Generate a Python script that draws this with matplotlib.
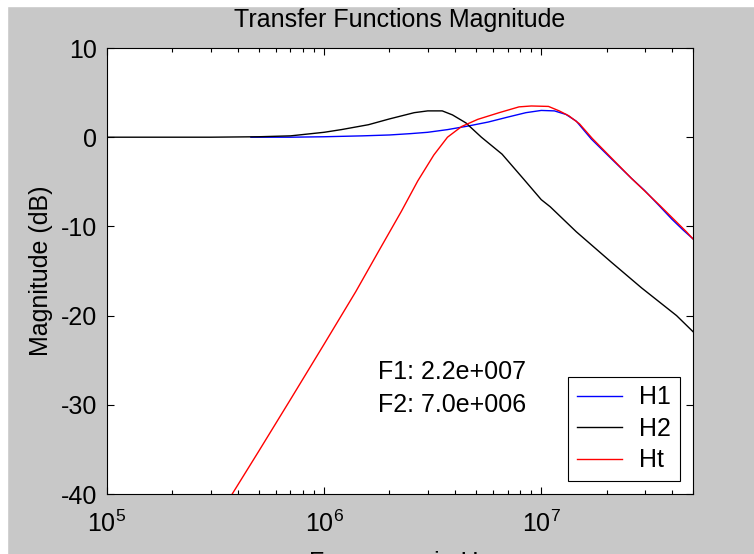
"""Transfer function magnitude plot (H1, H2 and the total Ht)."""
import numpy as np
import matplotlib
matplotlib.use("Agg")
import matplotlib.pyplot as plt
from matplotlib.patches import Rectangle

# values, frequency in Hz / magnitude in dB
h1_freq = [4.6e5, 7e5, 1e6, 1.5e6, 2e6, 2.5e6, 3e6, 3.7e6, 4.6e6, 5.7e6,
           7e6, 8.5e6, 1e7, 1.15e7, 1.3e7, 1.45e7, 1.7e7, 2.1e7, 2.6e7,
           3e7, 3.5e7, 4e7, 4.5e7, 5e7]
h1_db = [0.0, 0.0, 0.05, 0.15, 0.25, 0.4, 0.55, 0.85, 1.25, 1.7,
         2.25, 2.75, 3.0, 2.95, 2.55, 1.8, -0.2, -2.4, -4.6,
         -6.0, -7.7, -9.2, -10.4, -11.4]

h2_freq = [1e5, 3e5, 5e5, 7e5, 1e6, 1.2e6, 1.6e6, 2e6, 2.6e6, 3e6, 3.5e6,
           3.9e6, 4.5e6, 5.3e6, 6.6e6, 8.3e6, 1e7, 1.1e7, 1.45e7, 2.1e7,
           2.9e7, 4.2e7, 5e7]
h2_db = [0.0, 0.0, 0.05, 0.15, 0.55, 0.85, 1.4, 2.05, 2.75, 2.95, 2.95,
         2.5, 1.6, 0.0, -1.9, -4.7, -7.0, -7.8, -10.6, -14.0,
         -16.9, -20.0, -21.8]

ht_freq = [3.6e5, 5e5, 7e5, 1e6, 1.4e6, 1.8e6, 2.27e6, 2.7e6, 3.2e6, 3.7e6,
           4.3e6, 5.1e6, 6.4e6, 7.9e6, 9e6, 1.08e7, 1.21e7, 1.34e7, 1.5e7,
           1.72e7, 2.1e7, 2.6e7, 3.5e7, 4.66e7, 5e7]
ht_db = [-40.8, -35.2, -29.4, -23.2, -17.3, -12.6, -8.3, -4.9, -2.0, 0.0,
         1.2, 2.0, 2.75, 3.4, 3.5, 3.45, 2.95, 2.4, 1.5,
         -0.15, -2.3, -4.6, -7.6, -10.6, -11.4]

series_names = ["H1", "H2", "Ht"]
series_colors = ["#0000ff", "#000000", "#ff0000"]
notes = ["F1: 2.2e+007", "F2: 7.0e+006"]

plt.rcParams["font.family"] = ["Liberation Sans", "DejaVu Sans"]
plt.rcParams["mathtext.fontset"] = "custom"
plt.rcParams["mathtext.rm"] = "Liberation Sans"
plt.rcParams["axes.unicode_minus"] = False
plt.rcParams["font.size"] = 18

W, H = 754, 554
fig = plt.figure(figsize=(W / 100, H / 100), dpi=100, facecolor="#c8c8c8")
ax = fig.add_axes([107 / W, 1 - 494 / H, 586 / W, 446 / H])

for f, db, name, c in zip([h1_freq, h2_freq, ht_freq], [h1_db, h2_db, ht_db],
                          series_names, series_colors):
    ax.semilogx(f, db, color=c, lw=1.0, label=name)

ax.set_xlim(1e5, 5e7)
ax.set_ylim(-40, 10)
ax.set_yticks(np.arange(-40, 11, 10))
ax.tick_params(which="both", direction="in", top=True, right=True,
               width=0.8, labelsize=18)
ax.tick_params(which="major", length=5)
ax.tick_params(which="minor", length=3)
ax.tick_params(axis="x", pad=12)
ax.tick_params(axis="y", pad=7)
for s in ax.spines.values():
    s.set_linewidth(0.8)

ax.set_title("Transfer Functions Magnitude", fontsize=18, pad=15)
ax.set_ylabel("Magnitude (dB)", fontsize=18)
ax.yaxis.set_label_coords(-0.092, 0.5)
ax.set_xlabel("Frequency in Hz", fontsize=18, va="top")
ax.xaxis.set_label_coords(0.5, -(551 - 494) / 446)

ax.text(0.4625, 0.2735, notes[0], transform=ax.transAxes, va="center", fontsize=18)
ax.text(0.4625, 0.1996, notes[1], transform=ax.transAxes, va="center", fontsize=18)

leg = ax.legend(loc="lower right", bbox_to_anchor=(0.978, 0.029),
                borderaxespad=0, fancybox=False, framealpha=1,
                edgecolor="black", handlelength=1.8, handletextpad=0.7,
                labelspacing=0.3, borderpad=0.35, fontsize=18)
leg.get_frame().set_linewidth(0.8)

# thin white strip on the left and top edge of the screenshot
fig.patches.append(Rectangle((0, 0), 7 / W, 1, transform=fig.transFigure,
                             color="white", zorder=0))
fig.patches.append(Rectangle((0, 1 - 6 / H), 1, 6 / H, transform=fig.transFigure,
                             color="white", zorder=0))

fig.savefig("out.png", dpi=100, facecolor=fig.get_facecolor())
